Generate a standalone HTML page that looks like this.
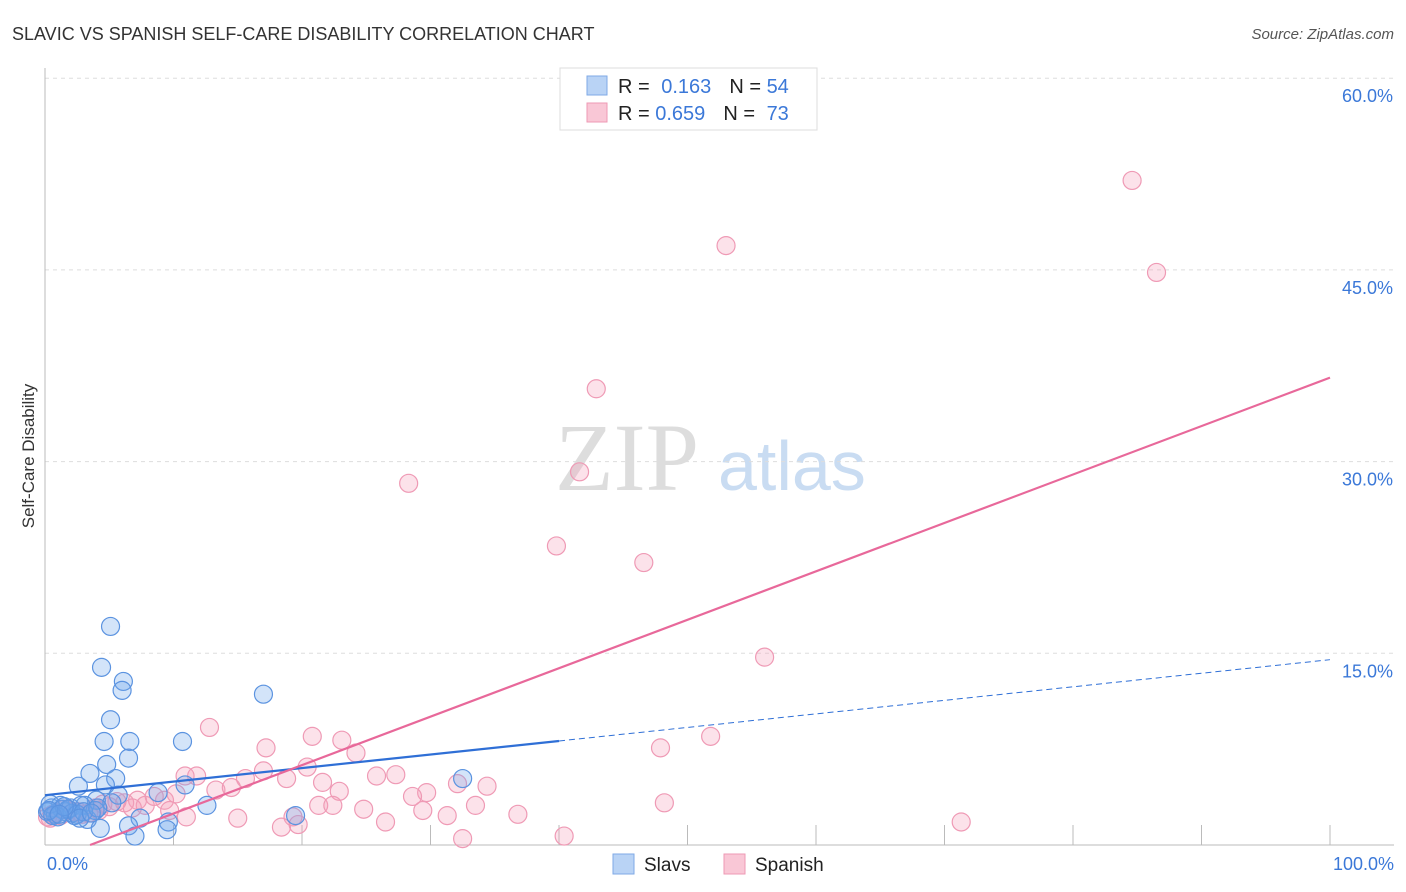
<!DOCTYPE html>
<html><head><meta charset="utf-8"><style>
body{margin:0;background:#fff;font-family:"Liberation Sans",sans-serif}
svg{display:block}
</style></head><body>
<svg id="c" width="1406" height="892" xmlns="http://www.w3.org/2000/svg">
<text x="12" y="40" font-size="18" fill="#333">SLAVIC VS SPANISH SELF-CARE DISABILITY CORRELATION CHART</text>
<text x="1394" y="39" font-size="15" fill="#555" font-style="italic" text-anchor="end">Source: ZipAtlas.com</text>
<text x="34" y="456" font-size="17" fill="#333" text-anchor="middle" transform="rotate(-90 34 456)">Self-Care Disability</text>
<text x="555" y="490" font-size="96" fill="#ddd" font-family="Liberation Serif">ZIP</text>
<text x="718" y="490" font-size="70" fill="#c9dcf2">atlas</text>
<g id="grid"></g><g id="pts"></g><g id="lines"></g>
<g>
<rect x="560" y="68" width="257" height="62" fill="#fff" stroke="#ddd"/>
<rect x="587" y="76" width="20" height="19" fill="#b9d3f5" stroke="#7fa9e6"/>
<rect x="587" y="103" width="20" height="19" fill="#f9c7d6" stroke="#ee9ab4"/>
<text x="618" y="93" font-size="20" fill="#222">R = <tspan fill="#3b78d8" dx="6">0.163</tspan><tspan dx="18" fill="#222">N = </tspan><tspan fill="#3b78d8">54</tspan></text>
<text x="618" y="120" font-size="20" fill="#222">R = <tspan fill="#3b78d8">0.659</tspan><tspan dx="18" fill="#222">N = </tspan><tspan dx="6" fill="#3b78d8">73</tspan></text>
</g>
<g>
<rect x="613" y="854" width="21" height="20" fill="#b9d3f5" stroke="#7fa9e6"/>
<text x="644" y="871" font-size="19" fill="#222">Slavs</text>
<rect x="724" y="854" width="21" height="20" fill="#f9c7d6" stroke="#ee9ab4"/>
<text x="755" y="871" font-size="19" fill="#222">Spanish</text>
</g>
</svg>
<script>
const yTicks=[15,30,45,60];
const yTickLabels=["15.0%","30.0%","45.0%","60.0%"];
const xTickLabels=["0.0%","100.0%"];
const slavsX=[5.1,4.4,6.1,6.0,17.0,5.1,4.6,6.6,10.7,6.5,4.8,3.5,5.5,32.5,2.6,4.7,10.9,5.7,8.8,4.0,12.6,1.2,3.1,5.2,19.5,0.5,1.6,2.3,3.3,7.4,9.6,6.5,4.3,9.5,7.0,0.2,0.8,1.3,2.0,2.8,3.9,1.0,2.1,0.4,1.8,2.5,3.0,0.6,1.5,2.7,4.1,0.3,3.6,1.1];
const slavsY=[17.1,13.9,12.8,12.1,11.8,9.8,8.1,8.1,8.1,6.8,6.3,5.6,5.2,5.2,4.6,4.7,4.7,3.9,4.1,3.5,3.1,3.1,3.1,3.3,2.3,2.9,2.6,2.3,2.0,2.1,1.8,1.5,1.3,1.2,0.7,2.6,2.4,2.8,2.9,3.1,2.7,2.2,2.5,3.2,2.8,2.4,2.6,2.3,3.0,2.1,2.9,2.7,2.5,2.4];
const spanishX=[84.6,86.5,53.0,42.9,28.3,41.6,39.8,46.6,56.0,51.8,47.9,12.8,17.2,20.8,23.1,24.2,20.4,17.0,15.6,11.8,10.9,25.8,27.3,18.8,21.6,34.4,32.1,22.9,29.7,28.6,13.3,14.5,33.5,21.3,22.4,24.8,29.4,48.2,36.8,31.3,19.3,15.0,11.0,18.4,19.7,26.5,71.3,40.4,32.5,9.3,7.2,6.2,9.7,7.8,3.9,1.2,0.4,2.3,5.0,8.5,0.8,1.8,2.9,4.5,6.8,0.2,1.5,3.4,5.6,10.2,2.6,0.6,4.2];
const spanishY=[52.0,44.8,46.9,35.7,28.3,29.2,23.4,22.1,14.7,8.5,7.6,9.2,7.6,8.5,8.2,7.2,6.1,5.8,5.2,5.4,5.4,5.4,5.5,5.2,4.9,4.6,4.8,4.2,4.1,3.8,4.3,4.5,3.1,3.1,3.1,2.8,2.7,3.3,2.4,2.3,2.2,2.1,2.2,1.4,1.6,1.8,1.8,0.7,0.5,3.5,3.5,3.3,2.7,3.1,2.9,2.3,2.1,2.6,3.0,3.8,2.5,2.7,2.4,3.2,2.9,2.2,2.8,2.5,3.4,4.0,2.6,2.4,2.7];
const slavsFit=[3.9,0.106];
const spanishFit=[-1.33,0.379];
const NS="http://www.w3.org/2000/svg";
const X=v=>45+v*12.85, Y=v=>845-v*12.78;
function mk(t,a,p){const e=document.createElementNS(NS,t);for(const k in a)e.setAttribute(k,a[k]);p.appendChild(e);return e;}
const g=document.getElementById('grid');
yTicks.forEach((t,i)=>{
 const l=mk('line',{x1:45,x2:1394,y1:Y(t),y2:Y(t),stroke:'#ddd','stroke-dasharray':'4 4'},g);
 
 
 const tx=mk('text',{x:1393,y:Y(t)+24,'font-size':18,fill:'#3b78d8','text-anchor':'end'},g);
 tx.textContent=yTickLabels[i];
 
 
});
mk('line',{x1:45,x2:45,y1:68,y2:845,stroke:'#bbb'},g);
mk('line',{x1:45,x2:1394,y1:845,y2:845,stroke:'#bbb'},g);
for(let i=1;i<=10;i++){mk('line',{x1:X(i*10),x2:X(i*10),y1:825,y2:845,stroke:'#bbb'},g);}
[[0,X(0)+2,'start'],[1,1394,'end']].forEach(([i,x,a])=>{
 const tx=mk('text',{x:x,y:870,'font-size':18,fill:'#3b78d8','text-anchor':a},g);
 tx.textContent=xTickLabels[i];
 
 
});
const p=document.getElementById('pts');
spanishX.forEach((v,i)=>{const c=mk('circle',{cx:X(v),cy:Y(spanishY[i]),r:9,fill:'rgba(245,160,185,0.3)',stroke:'#ef9ab5','stroke-width':1.2},p);
 
 });
slavsX.forEach((v,i)=>{const c=mk('circle',{cx:X(v),cy:Y(slavsY[i]),r:9,fill:'rgba(110,165,235,0.3)',stroke:'#5b93e0','stroke-width':1.2},p);
 
 });
const L=document.getElementById('lines');
const f=(fit,x)=>fit[0]+fit[1]*x;
let a=mk('line',{x1:X(0),y1:Y(f(slavsFit,0)),x2:X(40),y2:Y(f(slavsFit,40)),stroke:'#2f6fd6','stroke-width':2.2},L);


a=mk('line',{x1:X(40),y1:Y(f(slavsFit,40)),x2:X(100),y2:Y(f(slavsFit,100)),stroke:'#2f6fd6','stroke-width':1,'stroke-dasharray':'6 4'},L);


const x0=-spanishFit[0]/spanishFit[1];
a=mk('line',{x1:X(x0),y1:Y(0),x2:X(100),y2:Y(f(spanishFit,100)),stroke:'#e8689a','stroke-width':2.2},L);


</script>
</body></html>
